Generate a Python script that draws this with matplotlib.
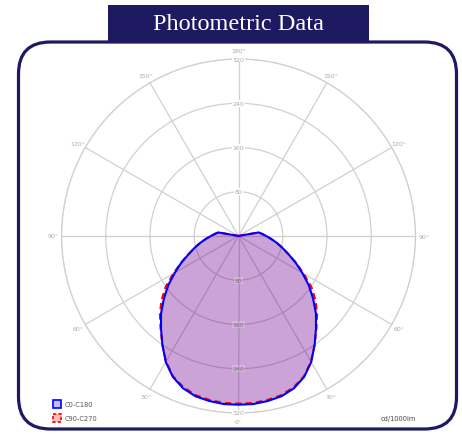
import numpy as np
import matplotlib
matplotlib.use("Agg")
import matplotlib.pyplot as plt
from matplotlib.patches import FancyBboxPatch, Rectangle

# gamma angles (deg from nadir) and intensities in cd/1000lm
angles = [0, 5, 10, 15, 20, 25, 30, 35, 40, 45, 50, 55, 60, 65, 70, 75, 80, 85, 90,
          95, 100, 105, 110, 120, 130, 140, 150, 160, 170, 180]
c0_c180 = [305, 305, 303, 300, 293, 281, 263, 240, 218, 198, 176, 155, 133, 114, 96, 82, 70, 59, 50,
           43, 37, 1, 0, 0, 0, 0, 0, 0, 0, 0]
c90_c270 = [303, 303, 301, 298, 291, 280, 262, 240, 219, 201, 182, 161, 136, 115, 96, 82, 70, 59, 50,
            43, 37, 1, 0, 0, 0, 0, 0, 0, 0, 0]
ring_values = [80, 160, 240, 320]
angle_ticks = list(range(0, 360, 30))

NAVY = "#1d1a62"
GRID = "#d0d0d0"

def mirrored(a, v):
    a = np.radians(np.array(a, dtype=float))
    v = np.array(v, dtype=float)
    th = np.concatenate([-a[::-1], a[1:]])
    r = np.concatenate([v[::-1], v[1:]])
    return th, r

fig = plt.figure(figsize=(4.62, 4.39), dpi=100)

# background layer in pixel units
bg = fig.add_axes([0, 0, 1, 1])
bg.set_xlim(0, 462)
bg.set_ylim(439, 0)
bg.axis("off")
bg.add_patch(FancyBboxPatch((18.5, 43), 438, 387, boxstyle="round,pad=0,rounding_size=32",
                            fc="white", ec=NAVY, lw=2.3))
bg.add_patch(Rectangle((108, 6), 261, 36, fc=NAVY, ec="none", zorder=3))
bg.text(238.5, 24.5, "Photometric Data", color="white", fontsize=17.5,
        family="Liberation Serif", ha="center", va="center", zorder=4)

# legend
bg.add_patch(Rectangle((53, 401.5), 8, 8, fc=(0, 0, 1, 0.25), ec="blue", lw=1.2))
bg.add_patch(Rectangle((53, 415), 8, 8, fc=(1, 0, 0, 0.25), ec="red", lw=1.2, ls=(0, (2, 1.2))))
bg.text(65, 405.5, "C0-C180", fontsize=4.8, color="#555555", va="center")
bg.text(65, 419, "C90-C270", fontsize=4.8, color="#555555", va="center")
bg.text(416, 419, "cd/1000lm", fontsize=4.8, color="#444444", va="center", ha="right")

# polar diagram
cx, cy, rad = 238.5, 202, 177
ax = fig.add_axes([(cx - rad) / 462, (cy - rad) / 439, 2 * rad / 462, 2 * rad / 439],
                  projection="polar")
ax.patch.set_alpha(0)
ax.set_theta_zero_location("S")
ax.set_ylim(0, 320)
ax.set_thetagrids(angle_ticks, labels=[""] * len(angle_ticks))
ax.set_rgrids(ring_values, labels=[""] * len(ring_values))
ax.grid(color=GRID, lw=0.9)
ax.spines["polar"].set_color(GRID)
ax.spines["polar"].set_linewidth(0.9)

th_b, r_b = mirrored(angles, c0_c180)
th_r, r_r = mirrored(angles, c90_c270)
ax.fill(th_r, r_r, color=(1, 0, 0, 0.2), lw=0, zorder=2)
ax.fill(th_b, r_b, color=(0, 0, 1, 0.2), lw=0, zorder=2)
ax.plot(th_r, r_r, color="red", lw=1.5, ls=(0, (3, 2)), zorder=3)
ax.plot(th_b, r_b, color="blue", lw=1.5, zorder=4)

for d in angle_ticks:
    lab = f"{min(d, 360 - d)}°"
    ax.text(np.radians(d), 335, lab, fontsize=4.5, color="#aaaaaa", ha="center", va="center")

for v in ring_values:
    ax.text(np.pi, v, str(v), fontsize=4.5, color="#aaaaaa", ha="center", va="center", zorder=5,
            bbox=dict(fc="white", ec="none", pad=0.6))
    inside = v < 305
    ax.text(0, v, str(v), fontsize=4.5, color="#777777" if inside else "#aaaaaa",
            ha="center", va="center", zorder=5,
            bbox=dict(fc=(1, 1, 1, 0.2 if inside else 1), ec="none", pad=0.6))

fig.savefig("out.png", dpi=100)
